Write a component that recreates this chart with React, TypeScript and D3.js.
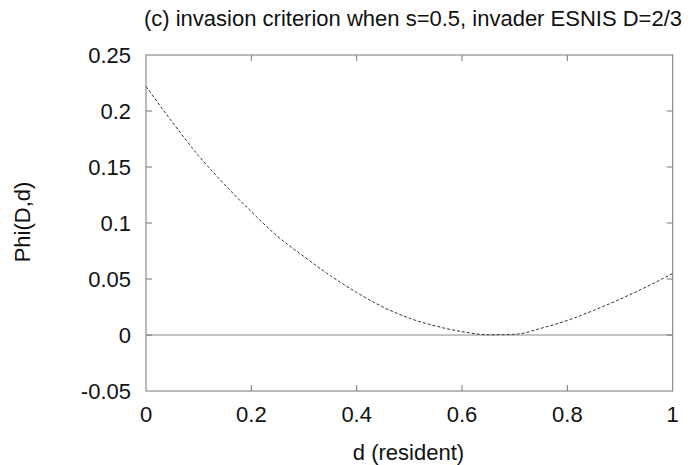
import React from "react";
import * as d3 from "d3";

const dValues = [0, 0.05, 0.1, 0.15, 0.2, 0.25, 0.3, 0.35, 0.4, 0.45, 0.5, 0.55, 0.6, 0.65, 0.7, 0.75, 0.8, 0.85, 0.9, 0.95, 1.0];
const phiValues = [0.222, 0.19, 0.16, 0.134, 0.11, 0.088, 0.07, 0.053, 0.038, 0.025, 0.015, 0.008, 0.003, 0.0002, 0.0006, 0.006, 0.013, 0.022, 0.032, 0.043, 0.055];
const xTicks = [0, 0.2, 0.4, 0.6, 0.8, 1];
const yTicks = [-0.05, 0, 0.05, 0.1, 0.15, 0.2, 0.25];
const xTickLabels = ["0", "0.2", "0.4", "0.6", "0.8", "1"];
const yTickLabels = ["-0.05", "0", "0.05", "0.1", "0.15", "0.2", "0.25"];
const title = "(c) invasion criterion when s=0.5, invader ESNIS D=2/3";
const xLabel = "d (resident)";
const yLabel = "Phi(D,d)";

export default function App() {
  const W = 694, H = 465;
  const left = 146, right = 672.7, top = 55, bottom = 391;
  const x = d3.scaleLinear().domain([0, 1]).range([left, right]);
  const y = d3.scaleLinear().domain([-0.05, 0.25]).range([bottom, top]);
  const pts = dValues.map((d, i) => [d, phiValues[i]] as [number, number]);
  const line = d3.line<[number, number]>().x(p => x(p[0])).y(p => y(p[1])).curve(d3.curveMonotoneX);
  const font = "'Liberation Sans', Arial, Helvetica, sans-serif";
  const frame = "#777";
  const tl = 6;
  return (
    <svg width={W} height={H} style={{ position: "absolute", left: 0, top: 0, background: "#fff" }}>
      <rect x={0} y={0} width={W} height={H} fill="#fff" />
      <line x1={x(0)} x2={x(1)} y1={y(0)} y2={y(0)} stroke="#888" strokeWidth={1} />
      <path d={line(pts) || ""} fill="none" stroke="#333" strokeWidth={1} strokeDasharray="3,2" />
      <rect x={left} y={top} width={right - left} height={bottom - top} fill="none" stroke={frame} strokeWidth={1} />
      {xTicks.map((t, i) => (
        <g key={"x" + i}>
          {i > 0 && i < xTicks.length - 1 && (
            <>
              <line x1={x(t)} x2={x(t)} y1={bottom} y2={bottom - tl} stroke={frame} />
              <line x1={x(t)} x2={x(t)} y1={top} y2={top + tl} stroke={frame} />
            </>
          )}
          <text x={x(t)} y={421.5} textAnchor="middle" fontFamily={font} fontSize={22} fill="#111">{xTickLabels[i]}</text>
        </g>
      ))}
      {yTicks.map((t, i) => (
        <g key={"y" + i}>
          {i > 0 && i < yTicks.length - 1 && (
            <>
              <line x1={left} x2={left + tl} y1={y(t)} y2={y(t)} stroke={frame} />
              <line x1={right} x2={right - tl} y1={y(t)} y2={y(t)} stroke={frame} />
            </>
          )}
          <text x={131} y={y(t) + 7.5} textAnchor="end" fontFamily={font} fontSize={22} fill="#111">{yTickLabels[i]}</text>
        </g>
      ))}
      <text x={413} y={26} textAnchor="middle" fontFamily={font} fontSize={22} fill="#111">{title}</text>
      <text x={408.5} y={460} textAnchor="middle" fontFamily={font} fontSize={22} fill="#111">{xLabel}</text>
      <text transform={`translate(30,222) rotate(-90)`} textAnchor="middle" fontFamily={font} fontSize={22} fill="#111">{yLabel}</text>
    </svg>
  );
}
